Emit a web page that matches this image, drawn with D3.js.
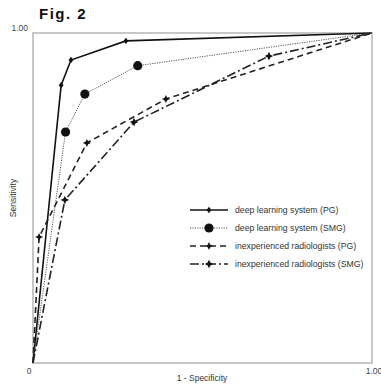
<!doctype html>
<html lang="en">
<head>
<meta charset="UTF-8">
<title>Fig. 2</title>
<style>
  html, body { margin: 0; padding: 0; background: #fff; }
  svg { display: block; font-family: 'Liberation Sans', Arial, sans-serif; }
</style>
</head>
<body>
<svg width="381" height="386"></svg>
<script src="https://d3js.org/d3.v7.min.js"></script>
<script>
  // ROC points (x = 1 - specificity, y = sensitivity)
  const dlPgX = [0, 0.083, 0.112, 0.274, 1]
  const dlPgY = [0, 0.842, 0.918, 0.976, 1]
  const dlSmgX = [0, 0.096, 0.153, 0.309, 1]
  const dlSmgY = [0, 0.700, 0.815, 0.901, 1]
  const irPgX = [0, 0.018, 0.159, 0.392, 1]
  const irPgY = [0, 0.382, 0.667, 0.800, 1]
  const irSmgX = [0, 0.094, 0.298, 0.696, 1]
  const irSmgY = [0, 0.494, 0.730, 0.930, 1]

  const seriesNames = [
    'deep learning system (PG)',
    'deep learning system (SMG)',
    'inexperienced radiologists (PG)',
    'inexperienced radiologists (SMG)'
  ]

  const zip = (xs, ys) => xs.map((x, i) => ({ x, y: ys[i] }))

  const series = [
    { name: seriesNames[0], pts: zip(dlPgX, dlPgY), dash: null, width: 1.6, color: '#111', sym: 'diamond', size: 3.2 },
    { name: seriesNames[1], pts: zip(dlSmgX, dlSmgY), dash: '1.2,1.2', width: 1, color: '#555', sym: 'circle', size: 4.6 },
    { name: seriesNames[2], pts: zip(irPgX, irPgY), dash: '6,4', width: 1.6, color: '#222', sym: 'star', size: 4 },
    { name: seriesNames[3], pts: zip(irSmgX, irSmgY), dash: '9,3,2,3', width: 1.6, color: '#222', sym: 'star', size: 4.3 }
  ]

  const svg = d3.select('svg')
  const mLeft = 33, mTop = 33, mRight = 372, mBottom = 363

  const x = d3.scaleLinear().domain([0, 1]).range([mLeft, mRight])
  const y = d3.scaleLinear().domain([0, 1]).range([mBottom, mTop])

  // title
  svg.append('text')
    .attr('x', 39).attr('y', 19)
    .attr('font-size', 15).attr('font-weight', 'bold')
    .attr('letter-spacing', 1.5)
    .attr('fill', '#111')
    .text('Fig. 2')

  // frame
  svg.append('rect')
    .attr('x', mLeft).attr('y', mTop)
    .attr('width', mRight - mLeft).attr('height', mBottom - mTop)
    .attr('fill', 'none').attr('stroke', '#b5b5b5').attr('stroke-width', 1.5)

  // tick labels
  svg.append('text').attr('x', 28).attr('y', y(1) - 2)
    .attr('text-anchor', 'end').attr('font-size', 8.5).attr('fill', '#444').text('1.00')
  svg.append('text').attr('x', 29).attr('y', mBottom + 11)
    .attr('text-anchor', 'middle').attr('font-size', 8.5).attr('fill', '#444').text('0')
  svg.append('text').attr('x', x(1) + 2).attr('y', mBottom + 11)
    .attr('text-anchor', 'middle').attr('font-size', 8.5).attr('fill', '#444').text('1.00')

  // axis titles
  svg.append('text').attr('x', 202).attr('y', 381)
    .attr('text-anchor', 'middle').attr('font-size', 8.5).attr('fill', '#333').text('1 - Specificity')
  svg.append('text')
    .attr('transform', `translate(16, ${(mTop + mBottom) / 2}) rotate(-90)`)
    .attr('text-anchor', 'middle').attr('font-size', 8.5).attr('fill', '#333').text('Sensitivity')

  const star = (r) => {
    const s = r * 0.32
    return `M0,${-r}L${s},${-s}L${r},0L${s},${s}L0,${r}L${-s},${s}L${-r},0L${-s},${-s}Z`
  }
  const diamond = (r) => `M0,${-r}L${r * 0.75},0L0,${r}L${-r * 0.75},0Z`

  const drawMarker = (g, s, cx, cy) => {
    if (s.sym === 'circle') {
      g.append('circle').attr('cx', cx).attr('cy', cy).attr('r', s.size).attr('fill', '#111')
    } else {
      g.append('path')
        .attr('transform', `translate(${cx},${cy})`)
        .attr('d', s.sym === 'diamond' ? diamond(s.size) : star(s.size))
        .attr('fill', '#111')
    }
  }

  const line = d3.line().x(d => x(d.x)).y(d => y(d.y))

  series.forEach(s => {
    svg.append('path')
      .datum(s.pts)
      .attr('d', line)
      .attr('fill', 'none')
      .attr('stroke', s.color)
      .attr('stroke-width', s.width)
      .attr('stroke-dasharray', s.dash)
    const g = svg.append('g')
    s.pts.slice(1, -1).forEach(p => drawMarker(g, s, x(p.x), y(p.y)))
  })

  // legend
  const legend = svg.append('g').attr('transform', 'translate(190, 210)')
  series.forEach((s, i) => {
    const row = legend.append('g').attr('transform', `translate(0, ${i * 18})`)
    row.append('line')
      .attr('x1', 0).attr('x2', 38).attr('y1', 0).attr('y2', 0)
      .attr('stroke', s.color).attr('stroke-width', s.width)
      .attr('stroke-dasharray', s.dash)
    drawMarker(row, s, 19, 0)
    row.append('text')
      .attr('x', 45).attr('y', 3.3)
      .attr('font-size', 8.7).attr('fill', '#333')
      .text(s.name)
  })
</script>
</body>
</html>
